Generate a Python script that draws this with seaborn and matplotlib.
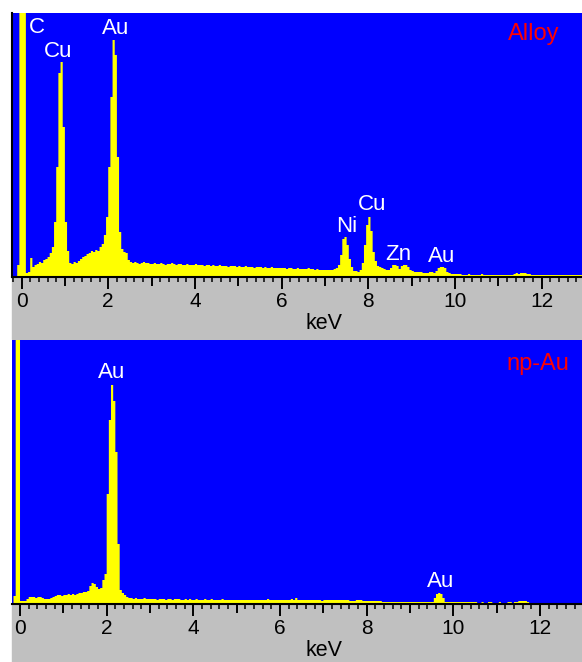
import numpy as np
import pandas as pd
import seaborn as sns
import matplotlib.pyplot as plt
from matplotlib.patches import Rectangle
from matplotlib.ticker import MultipleLocator, FuncFormatter

# EDS channels: 0.05 keV wide, first channel starts at -0.25 keV
BIN_START = -0.25
BIN_WIDTH = 0.05

# counts per channel (one row per keV, first row = -0.25 .. -0.05)
alloy_counts = [
    0, 0, 0, 12, 900,
    900, 900, 4, 5, 19, 10, 12, 13, 15, 14, 17, 18, 20, 24, 30, 55, 110, 204, 215, 150,
    55, 26, 14, 13, 15, 14, 16, 18, 20, 21, 23, 24, 26, 25, 27, 26, 30, 33, 42, 60,
    110, 180, 237, 222, 120, 45, 28, 25, 24, 17, 15, 14, 15, 14, 13, 14, 15, 14, 14, 13,
    13, 14, 13, 13, 14, 13, 12, 13, 13, 14, 13, 12, 13, 13, 12, 12, 13, 12, 12, 12,
    13, 12, 12, 12, 11, 12, 12, 11, 12, 11, 11, 12, 11, 11, 11, 10, 11, 11, 11, 10,
    11, 10, 10, 11, 10, 10, 10, 9, 10, 10, 10, 9, 10, 9, 9, 10, 9, 9, 9, 9,
    9, 9, 8, 9, 9, 8, 8, 9, 8, 8, 8, 8, 9, 8, 8, 7, 8, 7, 7, 7,
    7, 7, 7, 7, 8, 9, 12, 22, 38, 40, 32, 18, 10, 6, 6, 5, 7, 14, 32, 52,
    60, 46, 25, 16, 11, 10, 9, 8, 7, 7, 9, 12, 12, 11, 8, 11, 12, 12, 10, 7,
    6, 5, 5, 5, 5, 4, 4, 4, 5, 5, 4, 6, 9, 10, 10, 9, 5, 4, 3, 3,
    3, 3, 3, 2, 2, 2, 3, 2, 2, 2, 2, 2, 3, 2, 2, 2, 2, 2, 2, 2,
    2, 2, 2, 2, 2, 2, 2, 3, 4, 3, 4, 4, 4, 3, 3, 2, 2, 2, 2, 2,
    2, 2, 2, 2, 2, 2, 2, 2, 2, 2, 2, 2, 2, 2, 2, 2, 2, 2, 2, 2,
]

npau_counts = [
    0, 0, 8, 900, 900,
    3, 3, 3, 5, 7, 7, 7, 6, 7, 7, 6, 5, 5, 5, 6, 7, 8, 9, 9, 8,
    9, 9, 10, 9, 10, 9, 10, 11, 11, 12, 12, 13, 18, 21, 20, 17, 15, 16, 24, 30,
    110, 184, 219, 203, 152, 60, 14, 11, 9, 7, 6, 6, 5, 6, 5, 5, 5, 6, 5, 5,
    5, 5, 5, 4, 5, 5, 5, 4, 5, 5, 4, 5, 5, 5, 4, 4, 5, 4, 5, 4,
    4, 5, 4, 4, 4, 5, 4, 4, 5, 4, 4, 4, 4, 5, 4, 4, 4, 4, 4, 4,
    4, 4, 4, 4, 4, 4, 4, 4, 4, 4, 4, 4, 4, 4, 5, 4, 4, 4, 4, 4,
    4, 4, 4, 4, 4, 5, 4, 6, 4, 4, 4, 4, 4, 4, 4, 4, 4, 4, 4, 3,
    4, 4, 4, 4, 4, 4, 4, 4, 4, 4, 4, 4, 3, 3, 3, 4, 4, 4, 3, 3,
    3, 3, 3, 3, 3, 3, 3, 2, 2, 2, 2, 2, 2, 2, 2, 2, 2, 2, 2, 2,
    2, 2, 2, 2, 2, 2, 2, 2, 2, 2, 2, 6, 10, 11, 10, 6, 2, 2, 2, 2,
    2, 2, 2, 2, 2, 2, 2, 2, 2, 2, 2, 1, 1, 2, 1, 1, 2, 2, 1, 1,
    1, 2, 1, 1, 1, 2, 2, 1, 2, 2, 3, 3, 3, 3, 2, 1, 1, 1, 0, 0,
    0, 0, 0, 0, 0, 0, 0, 0, 0, 0, 0, 0, 0, 0, 0, 0, 0, 0, 0, 0,
]

# peak labels: (text, keV, height)
alloy_labels = [("C", 0.36, 244), ("Cu", 0.84, 220), ("Au", 2.18, 243),
                ("Ni", 7.49, 45), ("Cu", 8.09, 67), ("Zn", 8.69, 17),
                ("Au", 9.68, 15)]
npau_labels = [("Au", 2.12, 226), ("Au", 9.71, 17)]

panels = [
    ("Alloy", alloy_counts, alloy_labels, (-0.22, 12.93), (11.82, 237)),
    ("np-Au", npau_counts, npau_labels, (-0.185, 12.97), (11.95, 234)),
]

W, H = 582, 662
plt.rcParams["font.family"] = ["Liberation Sans", "DejaVu Sans"]
fig = plt.figure(figsize=(W / 100, H / 100), dpi=100)

# gray bands behind the x axes
for top, bottom in [(277, 339), (604, 662)]:
    fig.add_artist(Rectangle((12 / W, 1 - bottom / H), 570 / W, (bottom - top) / H,
                             transform=fig.transFigure, color="#c0c0c0", zorder=-1))

axes_top = [13, 340]
for (name, counts, labels, xlim, name_pos), ytop in zip(panels, axes_top):
    ax = fig.add_axes([12 / W, 1 - (ytop + 264) / H, 570 / W, 264 / H])
    ax.set_facecolor("#0000ff")

    n = len(counts)
    df = pd.DataFrame({
        "keV": BIN_START + BIN_WIDTH * (np.arange(n) + 0.5),
        "counts": counts,
    })
    sns.histplot(data=df, x="keV", weights="counts", binwidth=BIN_WIDTH,
                 binrange=(BIN_START, BIN_START + BIN_WIDTH * n),
                 element="step", fill=True, color="#ffff00", alpha=1,
                 linewidth=0, ax=ax)

    ax.set_xlim(*xlim)
    ax.set_ylim(0, 264)
    ax.set_ylabel("")
    ax.set_yticks([])
    for side in ["top", "right"]:
        ax.spines[side].set_visible(False)
    ax.spines["left"].set_visible(ytop == 13)
    ax.spines["left"].set_linewidth(1.5)
    ax.spines["bottom"].set_linewidth(1.5)

    ax.xaxis.set_major_locator(MultipleLocator(1))
    ax.xaxis.set_minor_locator(MultipleLocator(0.2))
    ax.xaxis.set_major_formatter(
        FuncFormatter(lambda v, p: f"{v:.0f}" if round(v) % 2 == 0 else ""))
    ax.tick_params(axis="x", which="major", length=8.6, width=1.4, labelsize=15, pad=2)
    ax.tick_params(axis="x", which="minor", length=3.8, width=1.1)
    ax.set_xlabel("keV", fontsize=15.5)
    ax.xaxis.set_label_coords(0.548, -0.136)

    for text, x, y in labels:
        ax.text(x, y, text, color="white", fontsize=16, ha="center", va="baseline")
    ax.text(name_pos[0], name_pos[1], name, color="#ff0000", fontsize=17,
            ha="center", va="baseline")

fig.canvas.draw()
for ax in fig.axes:
    locs = ax.xaxis.get_majorticklocs()
    for tick, loc in zip(ax.xaxis.get_major_ticks(), locs):
        if round(loc) % 2 == 1:
            tick.tick1line.set_markersize(6.5)

fig.savefig("out.png", dpi=100, facecolor="white")
